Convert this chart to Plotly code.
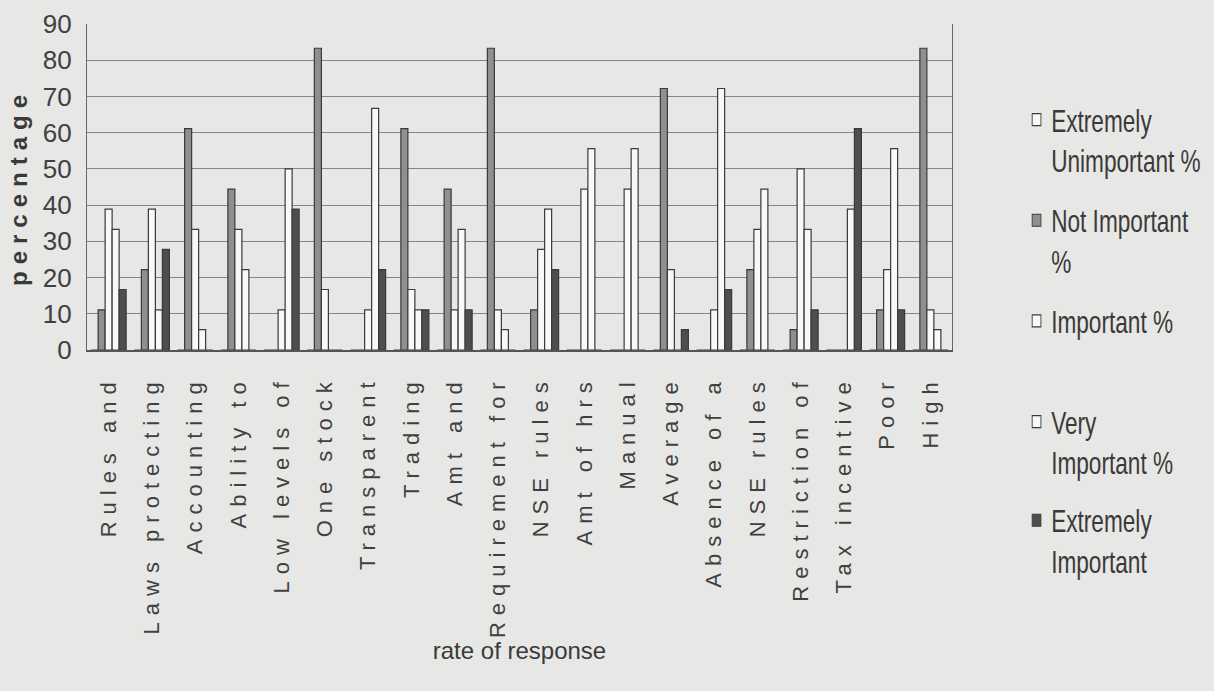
import plotly.graph_objects as go

categories = ["Rules and", "Laws protecting", "Accounting", "Ability to", "Low levels of",
              "One stock", "Transparent", "Trading", "Amt and", "Requirement for",
              "NSE rules", "Amt of hrs", "Manual", "Average", "Absence of a",
              "NSE rules", "Restriction of", "Tax incentive", "Poor", "High"]

extremely_unimportant = [0, 0, 0, 0, 0, 0, 0, 0, 0, 0, 0, 0, 0, 0, 0, 0, 0, 0, 0, 0]
not_important = [11.1, 22.2, 61.1, 44.4, 0, 83.3, 0, 61.1, 44.4, 83.3,
                 11.1, 0, 0, 72.2, 0, 22.2, 5.6, 0, 11.1, 83.3]
important = [38.9, 38.9, 33.3, 33.3, 11.1, 16.7, 11.1, 16.7, 11.1, 11.1,
             27.8, 44.4, 44.4, 22.2, 11.1, 33.3, 50.0, 0, 22.2, 11.1]
very_important = [33.3, 11.1, 5.6, 22.2, 50.0, 0, 66.7, 11.1, 33.3, 5.6,
                  38.9, 55.6, 55.6, 0, 72.2, 44.4, 33.3, 38.9, 55.6, 5.6]
extremely_important = [16.7, 27.8, 0, 0, 38.9, 0, 22.2, 11.1, 11.1, 0,
                       22.2, 0, 0, 5.6, 16.7, 0, 11.1, 61.1, 11.1, 0]

series_names = ["Extremely<br>Unimportant %", "Not Important<br>%", "Important %",
                "Very<br>Important %", "Extremely<br>Important"]
y_ticks = [0, 10, 20, 30, 40, 50, 60, 70, 80, 90]

x_idx = list(range(len(categories)))
BG = "#e7e7e5"
OUT = "#3a3a3a"
fills = ["#f8f8f6", "#8f8f8f", "#f8f8f6", "#f8f8f6", "#4e4e4e"]
values = [extremely_unimportant, not_important, important, very_important, extremely_important]
legends = ["legend", "legend", "legend", "legend2", "legend2"]

fig = go.Figure()
for i, (name, vals) in enumerate(zip(series_names, values)):
    fig.add_trace(go.Bar(
        x=x_idx, y=vals, name=name,
        marker=dict(color=fills[i], line=dict(color=OUT, width=1.2)),
        legend=legends[i], legendgroup="g%d" % i,
    ))

font = "Liberation Sans, Arial, sans-serif"

fig.update_layout(
    width=1214, height=691,
    paper_bgcolor=BG, plot_bgcolor=BG,
    margin=dict(l=87, r=262, t=24, b=341, autoexpand=False),
    barmode="group", bargap=0.19, bargroupgap=0,
    showlegend=True,
    legend=dict(xref="container", yref="container", x=0.8418, y=1 - 93 / 691,
                xanchor="left", yanchor="top", valign="top", bgcolor="rgba(0,0,0,0)",
                font=dict(family=font, size=31, color="#3a3a3a"),
                tracegroupgap=17, traceorder="grouped", itemwidth=30),
    legend2=dict(xref="container", yref="container", x=0.8418, y=1 - 395 / 691,
                 xanchor="left", yanchor="top", valign="top", bgcolor="rgba(0,0,0,0)",
                 font=dict(family=font, size=31, color="#3a3a3a"),
                 tracegroupgap=15, traceorder="grouped", itemwidth=30),
    xaxis=dict(
        range=[-0.5, len(categories) - 0.5],
        tickmode="array", tickvals=x_idx, ticktext=categories,
        tickangle=-90, ticks="", ticklabelstandoff=15,
        tickfont=dict(family=font, size=22, color="#404040"),
        showgrid=False, zeroline=False,
        showline=True, linecolor="#555555", linewidth=1.5,
        title=dict(text="rate of response", standoff=110,
                   font=dict(family=font, size=24, color="#3a3a3a")),
    ),
    yaxis=dict(
        range=[0, 90], tickmode="array", tickvals=y_ticks,
        ticks="", ticklabelstandoff=9,
        tickfont=dict(family=font, size=26, color="#404040"),
        showgrid=True, gridcolor="#858585", gridwidth=1,
        zeroline=False,
        showline=True, linecolor="#666666", linewidth=1.2, mirror=True,
        title=dict(text="<b>percentage</b>", standoff=8,
                   font=dict(family=font, size=24, color="#3a3a3a")),
    ),
)

post = """
document.body.style.margin = '0';
document.body.style.padding = '0';
var gd = document.getElementById('{plot_id}');
function fixAll(){
  document.querySelectorAll('.xtick text').forEach(function(t){ t.style.letterSpacing = '7px'; });
  var yt = document.querySelector('.ytitle');
  if (yt) { yt.style.letterSpacing = '7px'; }
  document.querySelectorAll('g.legend, g.legend2').forEach(function(g){
    var tr = g.getAttribute('transform') || '';
    if (tr.indexOf('scale') < 0) { g.setAttribute('transform', tr + ' scale(0.73,1)'); }
  });
}
fixAll();
if (gd && gd.on) { gd.on('plotly_afterplot', fixAll); }
"""

fig.write_html("out.html", post_script=post,
               config={"displayModeBar": False, "staticPlot": True})
